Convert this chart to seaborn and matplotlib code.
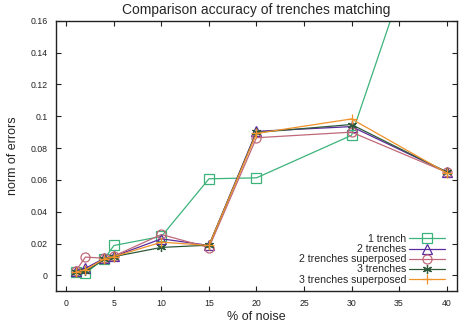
import pandas as pd
import seaborn as sns
import matplotlib.pyplot as plt

# noise levels (%) and error norms for each configuration
noise = [1, 2, 4, 5, 10, 15, 20, 30, 40]
one_trench = [0.002, 0.0015, 0.0105, 0.0188, 0.0245, 0.0607, 0.0613, 0.088, 0.264]
two_trenches = [0.003, 0.0045, 0.0108, 0.012, 0.023, 0.0188, 0.0905, 0.0935, 0.065]
two_trenches_sup = [0.003, 0.0115, 0.0108, 0.0122, 0.0257, 0.0175, 0.0865, 0.090, 0.0648]
three_trenches = [0.002, 0.0025, 0.0102, 0.0118, 0.0176, 0.019, 0.0898, 0.0948, 0.065]
three_trenches_sup = [0.0022, 0.0035, 0.0105, 0.0118, 0.0209, 0.0188, 0.0892, 0.0983, 0.0645]

labels = ['1 trench', '2 trenches', '2 trenches superposed',
          '3 trenches', '3 trenches superposed']
series = [one_trench, two_trenches, two_trenches_sup, three_trenches, three_trenches_sup]
colors = ['#3cb37a', '#5b2a9e', '#c06878', '#2f5a3a', '#f0922a']
markers = ['s', '^', 'o', (6, 2, 0), '+']

sns.set_style('ticks')
plt.rcParams['font.family'] = ['Liberation Sans', 'DejaVu Sans']

fig = plt.figure(figsize=(4.65, 3.25), dpi=100)
ax = fig.add_axes([0.1204, 0.1046, 0.8624, 0.8316])

for lab, vals, col, mk in zip(labels, series, colors, markers):
    df = pd.DataFrame({'noise': noise, 'err': vals})
    sns.lineplot(data=df, x='noise', y='err', ax=ax, color=col, lw=0.9,
                 marker=mk, markersize=6.5, markerfacecolor='none',
                 markeredgecolor=col, markeredgewidth=0.9, label=lab)

ax.set_xlim(-1.1, 41.1)
ax.set_ylim(-0.0098, 0.16)
ax.set_xticks(range(0, 41, 5))
ax.set_yticks([0, 0.02, 0.04, 0.06, 0.08, 0.1, 0.12, 0.14, 0.16])
ax.set_yticklabels(['0', '0.02', '0.04', '0.06', '0.08', '0.1', '0.12', '0.14', '0.16'])
ax.tick_params(direction='in', length=3.5, width=0.8, labelsize=6.3, pad=6,
               top=True, right=True, colors='#222222')
for sp in ax.spines.values():
    sp.set_linewidth(1.0)
    sp.set_color('#222222')

ax.set_title('Comparison accuracy of trenches matching', fontsize=10, pad=5)
ax.set_xlabel('% of noise', fontsize=9, labelpad=2)
ax.set_ylabel('norm of errors', fontsize=9, labelpad=8)

ax.legend(loc='lower right', bbox_to_anchor=(0.985, 0.0), frameon=False,
          markerfirst=False, fontsize=7.6, labelspacing=0.02,
          handlelength=3.4, handletextpad=0.25, borderaxespad=0.2,
          handleheight=0.6)

plt.savefig('out.png', dpi=100)
plt.close()
